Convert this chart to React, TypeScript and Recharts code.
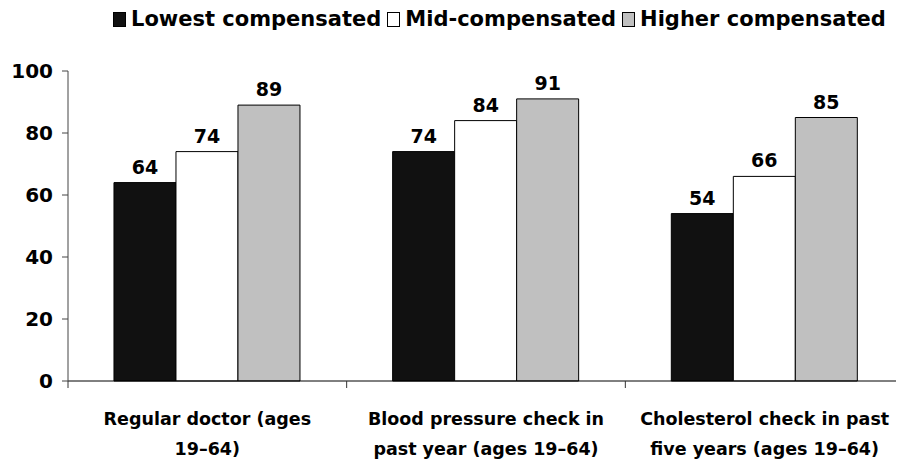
import React from "react";
import { BarChart, Bar, XAxis, YAxis, Legend, LabelList } from "recharts";

const categories = [
  "Regular doctor (ages 19–64)",
  "Blood pressure check in past year (ages 19–64)",
  "Cholesterol check in past five years (ages 19–64)",
];
const categoryLines = [
  ["Regular doctor (ages", "19–64)"],
  ["Blood pressure check in", "past year (ages 19–64)"],
  ["Cholesterol check in past", "five years (ages 19–64)"],
];
const seriesNames = ["Lowest compensated", "Mid-compensated", "Higher compensated"];
const lowest = [64, 74, 54];
const mid = [74, 84, 66];
const higher = [89, 91, 85];
const yTicks = [0, 20, 40, 60, 80, 100];
const seriesColors = ["#111111", "#ffffff", "#c0c0c0"];

const data = categories.map((name, i) => ({
  name,
  lowest: lowest[i],
  mid: mid[i],
  higher: higher[i],
}));

const FONT = "'DejaVu Sans', sans-serif";

// Category tick: labels at band centre; tick marks at the band edges
// (payload.offset is the half-bandwidth supplied by the axis scale).
const CategoryTick = (props: any) => {
  const { x, y, index, payload } = props;
  const half = payload && typeof payload.offset === "number" ? payload.offset : 0;
  const lines = categoryLines[index] || [];
  const isLast = index === categories.length - 1;
  return (
    <g>
      {half > 0 && (
        <line x1={x - half} x2={x - half} y1={y} y2={y + 7} stroke="#333" strokeWidth={1} />
      )}
      {half > 0 && isLast && (
        <line x1={x + half} x2={x + half} y1={y} y2={y + 7} stroke="#333" strokeWidth={1} />
      )}
      <text
        x={x}
        y={y}
        textAnchor="middle"
        fontFamily={FONT}
        fontWeight="bold"
        fontSize={17.5}
        fill="#000"
      >
        {lines.map((l, k) => (
          <tspan key={k} x={x} dy={k === 0 ? 44 : 30}>
            {l}
          </tspan>
        ))}
      </text>
    </g>
  );
};

const LegendContent = () => (
  <div
    style={{
      display: "flex",
      alignItems: "center",
      fontFamily: FONT,
      fontWeight: "bold",
      fontSize: 21,
      color: "#000",
      whiteSpace: "nowrap",
    }}
  >
    {seriesNames.map((n, i) => (
      <span key={n} style={{ display: "flex", alignItems: "center", marginRight: 6 }}>
        <span
          style={{
            display: "inline-block",
            width: 11,
            height: 13,
            background: seriesColors[i],
            border: "1px solid #000",
            marginRight: 5,
          }}
        />
        {n}
      </span>
    ))}
  </div>
);

export default function App() {
  return (
    <BarChart
      width={896}
      height={453}
      data={data}
      margin={{ top: 41, right: 0, bottom: 0, left: 0 }}
      barCategoryGap="16.5%"
      barGap={0}
    >
      <Legend
        verticalAlign="top"
        content={<LegendContent />}
        wrapperStyle={{ position: "absolute", top: -1, left: 105, width: "auto", height: 22 }}
      />
      <XAxis
        dataKey="name"
        height={80}
        tickLine={false}
        tickSize={0}
        tickMargin={0}
        axisLine={{ stroke: "#000" }}
        tick={<CategoryTick />}
        interval={0}
      />
      <YAxis
        domain={[0, 100]}
        ticks={yTicks}
        width={60}
        tickSize={6}
        tickMargin={9}
        axisLine={{ stroke: "#444" }}
        tickLine={{ stroke: "#444" }}
        tick={{ fontFamily: FONT, fontWeight: "bold", fontSize: 20, fill: "#000" }}
      />
      {[
        ["lowest", 0],
        ["mid", 1],
        ["higher", 2],
      ].map(([key, i]: any) => (
        <Bar
          key={key}
          dataKey={key}
          name={seriesNames[i]}
          fill={seriesColors[i]}
          stroke="#000"
          strokeWidth={1}
          isAnimationActive={false}
        >
          <LabelList
            dataKey={key}
            position="top"
            offset={9}
            fill="#000"
            fontFamily={FONT}
            fontWeight="bold"
            fontSize={19}
          />
        </Bar>
      ))}
    </BarChart>
  );
}
